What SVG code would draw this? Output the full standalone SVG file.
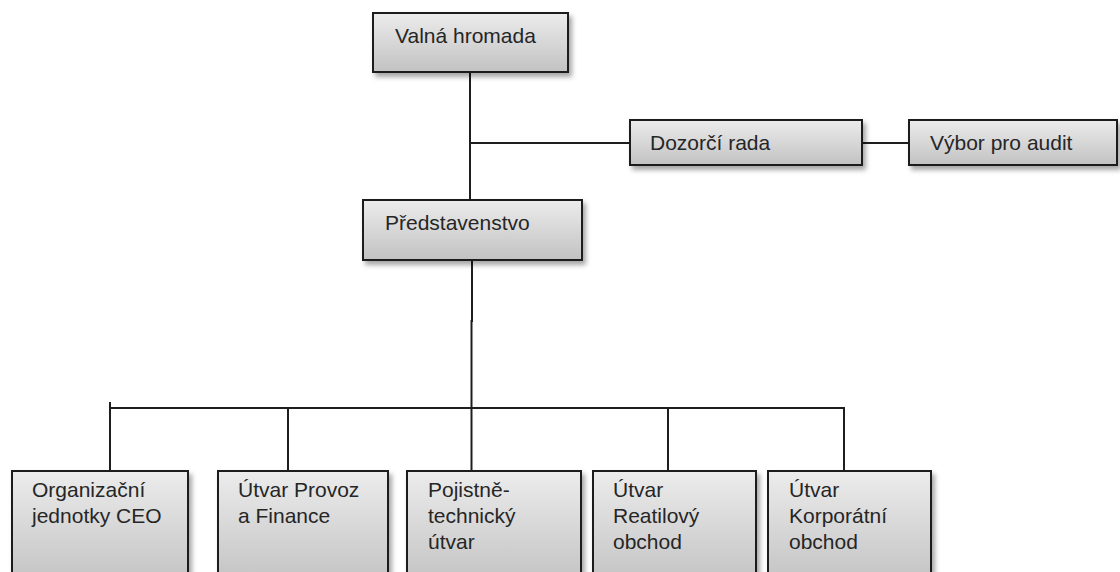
<svg xmlns="http://www.w3.org/2000/svg" width="1120" height="572" viewBox="0 0 1120 572">
<defs>
<linearGradient id="g" x1="0" y1="0" x2="0" y2="1">
<stop offset="0" stop-color="#ececec"/>
<stop offset="1" stop-color="#c2c2c3"/>
</linearGradient>
<filter id="sh" x="-10%" y="-10%" width="130%" height="140%">
<feDropShadow dx="3" dy="4" stdDeviation="2.5" flood-color="#000" flood-opacity="0.35"/>
</filter>
</defs>
<style>
.box{fill:url(#g);stroke:#1e1e1e;stroke-width:2;filter:url(#sh)}
.t{font-family:"Liberation Sans",Arial,sans-serif;font-size:21px;fill:#262626}
.c{stroke:#1e1e1e;stroke-width:2;fill:none}
</style>
<rect width="1120" height="572" fill="#fff"/>
<g id="connectors">
<line class="c" x1="470" y1="72" x2="470" y2="200"/>
<line class="c" x1="470" y1="143" x2="630" y2="143"/>
<line class="c" x1="862" y1="143" x2="909" y2="143"/>
<line class="c" x1="472" y1="260" x2="472" y2="322"/>
<line class="c" x1="471.5" y1="320" x2="471.5" y2="471"/>
<line class="c" x1="110" y1="408" x2="844" y2="408"/>
<line class="c" x1="110" y1="402" x2="110" y2="471"/>
<line class="c" x1="288" y1="407" x2="288" y2="477"/>
<line class="c" x1="668" y1="407" x2="668" y2="477"/>
<line class="c" x1="844" y1="407" x2="844" y2="471"/>
</g>
<g id="valna-hromada">
<rect class="box" x="373" y="13" width="195" height="59"/>
<text class="t" x="395" y="43">Valná hromada</text>
</g>
<g id="dozorci-rada">
<rect class="box" x="630" y="120" width="232" height="45"/>
<text class="t" x="650" y="150">Dozorčí rada</text>
</g>
<g id="vybor-pro-audit">
<rect class="box" x="909" y="120" width="208" height="45"/>
<text class="t" x="930" y="150">Výbor pro audit</text>
</g>
<g id="predstavenstvo">
<rect class="box" x="363" y="200" width="219" height="60"/>
<text class="t" x="385" y="230">Představenstvo</text>
</g>
<g id="organizacni-jednotky">
<rect class="box" x="12" y="471" width="176" height="115"/>
<text class="t" x="32" y="497">Organizační</text>
<text class="t" x="32" y="523">jednotky CEO</text>
</g>
<g id="provoz-finance">
<rect class="box" x="218" y="471" width="170" height="115"/>
<text class="t" x="238" y="497">Útvar Provoz</text>
<text class="t" x="238" y="523">a Finance</text>
</g>
<g id="pojistne-technicky">
<rect class="box" x="407" y="471" width="174" height="115"/>
<text class="t" x="428" y="497">Pojistně-</text>
<text class="t" x="428" y="523">technický</text>
<text class="t" x="428" y="549">útvar</text>
</g>
<g id="retailovy-obchod">
<rect class="box" x="593" y="471" width="163" height="115"/>
<text class="t" x="613" y="497">Útvar</text>
<text class="t" x="613" y="523">Reatilový</text>
<text class="t" x="613" y="549">obchod</text>
</g>
<g id="korporatni-obchod">
<rect class="box" x="768" y="471" width="163" height="115"/>
<text class="t" x="789" y="497">Útvar</text>
<text class="t" x="789" y="523">Korporátní</text>
<text class="t" x="789" y="549">obchod</text>
</g>
</svg>
